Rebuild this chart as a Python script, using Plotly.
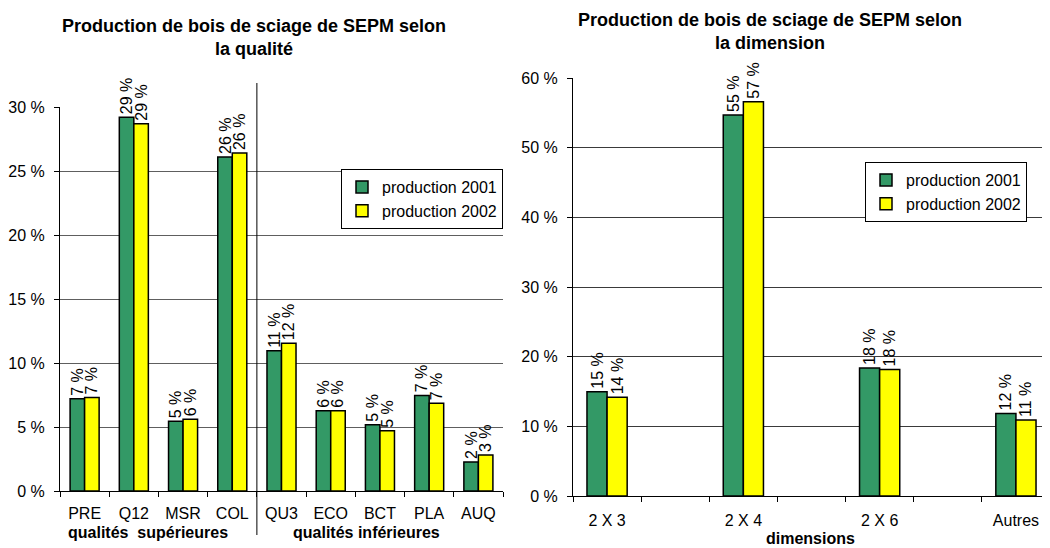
import plotly.graph_objects as go

# ---- data ----
qual_categories = ["PRE", "Q12", "MSR", "COL", "QU3", "ECO", "BCT", "PLA", "AUQ"]
qual_2001 = [7.2, 29.2, 5.45, 26.1, 10.95, 6.27, 5.18, 7.47, 2.27]
qual_2002 = [7.3, 28.7, 5.6, 26.4, 11.55, 6.27, 4.7, 6.85, 2.81]

dim_categories = ["2 X 3", "2 X 4", "2 X 6", "Autres"]
dim_2001 = [14.97, 54.7, 18.37, 11.86]
dim_2002 = [14.16, 56.6, 18.17, 10.9]

series_names = ["production 2001", "production 2002"]
series_colors = ["#339966", "#FFFF00"]

title_left = "Production de bois de sciage de SEPM selon<br>la qualité"
title_right = "Production de bois de sciage de SEPM selon<br>la dimension"
group_sup = "qualités  supérieures"
group_inf = "qualités inférieures"
dim_axis_title = "dimensions"

FONT = "Arial, 'Liberation Sans', sans-serif"
OFF = 8                      # default page body margin
W, H = 1050 - OFF, 548 - OFF

# right axis: empty slots between the dimension categories
dim_axis_array = []
for i, c in enumerate(dim_categories):
    dim_axis_array.append(c)
    if i < len(dim_categories) - 1:
        dim_axis_array.append(" " * (i + 1))

fig = go.Figure()

for name, vals, col in zip(series_names, [qual_2001, qual_2002], series_colors):
    fig.add_trace(go.Bar(
        x=qual_categories, y=vals, name=name, xaxis="x", yaxis="y",
        marker=dict(color=col, line=dict(color="black", width=1.5)),
        texttemplate="%{y:.0f} %", textposition="outside", textangle=-90,
        textfont=dict(family=FONT, size=16, color="black"),
        constraintext="none", cliponaxis=False, legend="legend",
    ))

for name, vals, col in zip(series_names, [dim_2001, dim_2002], series_colors):
    fig.add_trace(go.Bar(
        x=dim_categories, y=vals, name=name, xaxis="x2", yaxis="y2",
        marker=dict(color=col, line=dict(color="black", width=1.5)),
        texttemplate="%{y:.0f} %", textposition="outside", textangle=-90,
        textfont=dict(family=FONT, size=16, color="black"),
        constraintext="none", cliponaxis=False, legend="legend2",
    ))

def px_x(p):
    return (p - OFF) / W

def px_y(p):
    return 1 - (p - OFF) / H

tickfont = dict(family=FONT, size=16, color="black")

fig.update_layout(
    width=W, height=H,
    margin=dict(l=0, r=0, t=0, b=0, pad=0, autoexpand=False),
    paper_bgcolor="white", plot_bgcolor="white",
    barmode="group", bargap=0.41, bargroupgap=0,
    font=dict(family=FONT, size=16, color="black"),
    xaxis=dict(
        domain=[px_x(60), px_x(503)], anchor="y",
        type="category", categoryorder="array", categoryarray=qual_categories,
        showline=True, linecolor="black", linewidth=1,
        ticks="outside", tickson="boundaries", ticklen=5, tickcolor="black",
        tickfont=tickfont, showgrid=False, ticklabelstandoff=8,
    ),
    yaxis=dict(
        domain=[px_y(491), px_y(107)], anchor="x",
        range=[0, 30], dtick=5, ticksuffix=" %",
        showline=True, linecolor="black", linewidth=1,
        ticks="outside", ticklen=5, tickcolor="black",
        showgrid=True, gridcolor="#5e5e5e", gridwidth=1, zeroline=False,
        tickfont=tickfont, ticklabelstandoff=6,
    ),
    xaxis2=dict(
        domain=[px_x(573), 1.0], anchor="y2",
        type="category", categoryorder="array", categoryarray=dim_axis_array,
        range=[-0.5, len(dim_axis_array) - 0.5],
        showline=True, linecolor="black", linewidth=1,
        ticks="outside", tickson="boundaries", ticklen=5, tickcolor="black",
        tickfont=tickfont, showgrid=False, ticklabelstandoff=10,
    ),
    yaxis2=dict(
        domain=[px_y(496), px_y(78)], anchor="x2",
        range=[0, 60], dtick=10, ticksuffix=" %",
        showline=True, linecolor="black", linewidth=1,
        ticks="outside", ticklen=5, tickcolor="black",
        showgrid=True, gridcolor="#3a3a3a", gridwidth=1, zeroline=False,
        tickfont=tickfont, ticklabelstandoff=6,
    ),
    legend=dict(
        x=px_x(503), xanchor="right", y=px_y(169), yanchor="top",
        bordercolor="black", borderwidth=1, bgcolor="white",
        font=dict(family=FONT, size=16, color="black"),
        itemwidth=30, tracegroupgap=0,
    ),
    legend2=dict(
        x=px_x(1027), xanchor="right", y=px_y(162), yanchor="top",
        bordercolor="black", borderwidth=1, bgcolor="white",
        font=dict(family=FONT, size=16, color="black"),
        itemwidth=30, tracegroupgap=0,
    ),
    showlegend=True,
)

# titles and group labels
fig.add_annotation(text="<b>" + title_left + "</b>", xref="paper", yref="paper",
                   x=px_x(254), y=px_y(14), xanchor="center", yanchor="top",
                   showarrow=False, font=dict(family=FONT, size=18, color="black"))
fig.add_annotation(text="<b>" + title_right + "</b>", xref="paper", yref="paper",
                   x=px_x(770), y=1.0, xanchor="center", yanchor="top",
                   showarrow=False, font=dict(family=FONT, size=18, color="black"))
fig.add_annotation(text="<b>" + group_sup + "</b>", xref="paper", yref="paper",
                   x=px_x(148), y=px_y(532), xanchor="center", yanchor="middle",
                   showarrow=False, font=dict(family=FONT, size=16, color="black"))
fig.add_annotation(text="<b>" + group_inf + "</b>", xref="paper", yref="paper",
                   x=px_x(366), y=px_y(532), xanchor="center", yanchor="middle",
                   showarrow=False, font=dict(family=FONT, size=16, color="black"))
fig.add_annotation(text="<b>" + dim_axis_title + "</b>", xref="paper", yref="paper",
                   x=px_x(810), y=px_y(538), xanchor="center", yanchor="middle",
                   showarrow=False, font=dict(family=FONT, size=16, color="black"))

# separator between upper and lower qualities
fig.add_shape(type="line", xref="x", yref="paper", x0=3.5, x1=3.5,
              y0=px_y(535), y1=px_y(83), line=dict(color="black", width=1))

fig.write_html("out.html")
